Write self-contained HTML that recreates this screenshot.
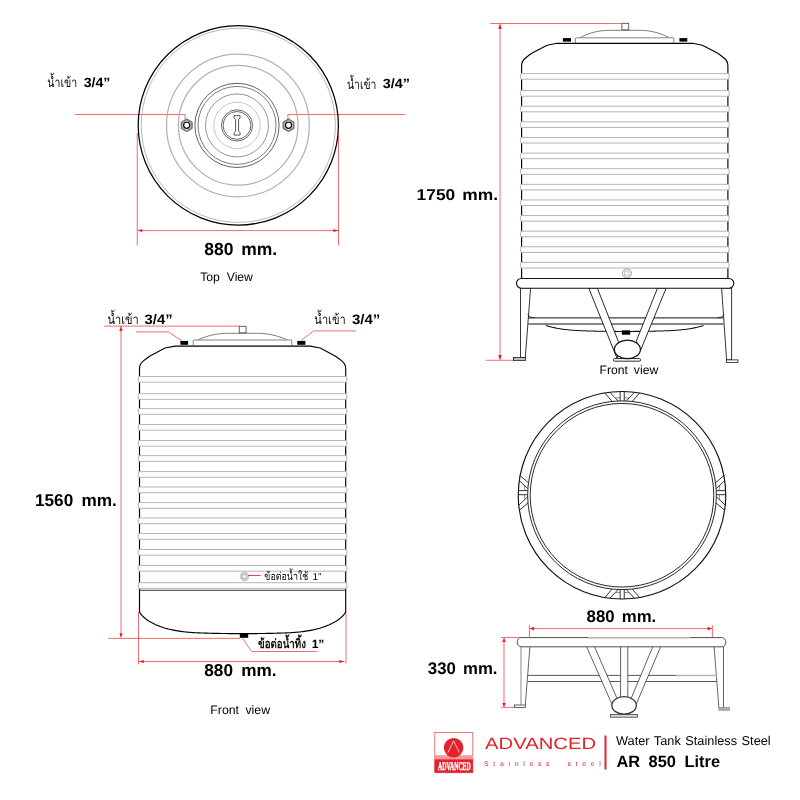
<!DOCTYPE html><html><head><meta charset="utf-8"><title>AR 850 Litre</title>
<style>html,body{margin:0;padding:0;background:#fff;}svg{display:block;will-change:transform;-webkit-font-smoothing:antialiased;text-rendering:geometricPrecision}</style></head><body>
<svg width="800" height="800" viewBox="0 0 800 800">
<rect width="800" height="800" fill="#fff"/>
<polyline points="75,114.5 185.1,114.5 185.1,119.4" stroke="#ed1c24" stroke-width="0.65" fill="none" />
<polyline points="404.8,114.5 287.9,114.5 287.9,119.4" stroke="#ed1c24" stroke-width="0.65" fill="none" />
<ellipse cx="238.3" cy="125.3" rx="100.1" ry="99.75" fill="none" stroke="#000" stroke-width="1.25"/>
<circle cx="238.3" cy="125.3" r="97.1" stroke="#a0a0a0" stroke-width="0.75" fill="none"/>
<circle cx="237.9" cy="125.4" r="71.4" stroke="#b2b2b2" stroke-width="1.25" fill="none"/>
<circle cx="238.2" cy="125.3" r="59.8" stroke="#b2b2b2" stroke-width="1.25" fill="none"/>
<circle cx="237.0" cy="125.4" r="42.1" stroke="#3a3a3a" stroke-width="0.8" fill="none"/>
<circle cx="237.0" cy="125.4" r="39.0" stroke="#444" stroke-width="0.7" fill="none"/>
<circle cx="237.0" cy="125.4" r="31.5" stroke="#666" stroke-width="0.7" fill="none"/>
<circle cx="237.0" cy="125.4" r="23.2" stroke="#a8a8a8" stroke-width="0.65" fill="none"/>
<circle cx="237.0" cy="125.4" r="15.6" stroke="#444" stroke-width="0.8" fill="none"/>
<circle cx="237.0" cy="125.4" r="13.9" stroke="#444" stroke-width="0.8" fill="none"/>
<path d="M234.1,115.7 h6 v2.2 l-1.5,1.8 v11.4 l1.5,1.8 v2.2 h-6 v-2.2 l1.5,-1.8 v-11.4 l-1.5,-1.8 z" fill="#fff" stroke="#3a3a3a" stroke-width="0.85" stroke-linejoin="round"/>
<polygon points="192.16,128.45 186.7,131.6 181.24,128.45 181.24,122.15 186.7,119.0 192.16,122.15" fill="#fff" stroke="#111" stroke-width="0.7"/>
<polygon points="191.29,127.95 186.7,130.6 182.11,127.95 182.11,122.65 186.7,120.0 191.29,122.65" fill="none" stroke="#222" stroke-width="0.55"/>
<circle cx="186.7" cy="125.3" r="3.1" stroke="#111" stroke-width="1.3" fill="none"/>
<polygon points="293.96,128.45 288.5,131.6 283.04,128.45 283.04,122.15 288.5,119.0 293.96,122.15" fill="#fff" stroke="#111" stroke-width="0.7"/>
<polygon points="293.09,127.95 288.5,130.6 283.91,127.95 283.91,122.65 288.5,120.0 293.09,122.65" fill="none" stroke="#222" stroke-width="0.55"/>
<circle cx="288.5" cy="125.3" r="3.1" stroke="#111" stroke-width="1.3" fill="none"/>
<line x1="137.25" y1="133" x2="137.25" y2="245.5" stroke="#ed1c24" stroke-width="0.65" />
<line x1="338.5" y1="133" x2="338.5" y2="245.5" stroke="#ed1c24" stroke-width="0.65" />
<line x1="138" y1="230.6" x2="339" y2="230.6" stroke="#ed1c24" stroke-width="0.65" />
<polygon points="137.5,230.6 142.3,229.1 142.3,232.1" fill="#ed1c24"/>
<polygon points="338.2,230.6 333.4,229.1 333.4,232.1" fill="#ed1c24"/>
<text x="204.2" y="255" font-family="Liberation Sans, sans-serif" font-size="17.5" font-weight="bold" fill="#000" text-anchor="start" word-spacing="3" letter-spacing="0" style="white-space:pre">880 mm.</text>
<text x="200.2" y="281" font-family="Liberation Sans, sans-serif" font-size="12.2" font-weight="normal" fill="#000" text-anchor="start" word-spacing="3.5" letter-spacing="0" style="white-space:pre">Top View</text>
<text x="47.3" y="87" font-family="sans-serif" font-size="13.5" font-weight="normal" fill="#0a0a0a" text-anchor="start" textLength="30" lengthAdjust="spacingAndGlyphs">น้ำเข้า</text>
<text transform="translate(83.7,86.8) scale(1.06,1)" font-family="Liberation Sans, sans-serif" font-size="13.3" font-weight="bold" fill="#000" text-anchor="start" word-spacing="0" letter-spacing="0" style="white-space:pre">3/4”</text>
<text x="347" y="88.5" font-family="sans-serif" font-size="13.5" font-weight="normal" fill="#0a0a0a" text-anchor="start" textLength="29.3" lengthAdjust="spacingAndGlyphs">น้ำเข้า</text>
<text transform="translate(382.7,88.4) scale(1.08,1)" font-family="Liberation Sans, sans-serif" font-size="13.3" font-weight="bold" fill="#000" text-anchor="start" word-spacing="0" letter-spacing="0" style="white-space:pre">3/4”</text>
<line x1="104" y1="326.1" x2="239.5" y2="326.1" stroke="#ed1c24" stroke-width="0.65" />
<line x1="121.0" y1="326" x2="121.0" y2="636.5" stroke="#ed1c24" stroke-width="0.65" />
<polygon points="121.0,326.1 119.4,330.90000000000003 122.6,330.90000000000003" fill="#ed1c24"/>
<polygon points="121.0,638.0 119.4,633.2 122.6,633.2" fill="#ed1c24"/>
<line x1="108.4" y1="638.4" x2="240" y2="638.4" stroke="#ed1c24" stroke-width="0.65" />
<polyline points="136,331.9 168.4,331.9 181.6,340.7" stroke="#ed1c24" stroke-width="0.65" fill="none" />
<polyline points="301.3,340.4 313.6,330.9 355.9,330.9" stroke="#ed1c24" stroke-width="0.65" fill="none" />
<polyline points="242.2,637.8 251.6,651.5 317.2,651.5" stroke="#ed1c24" stroke-width="0.65" fill="none" />
<line x1="138.5" y1="612" x2="138.5" y2="664.4" stroke="#ed1c24" stroke-width="0.65" />
<line x1="346.0" y1="612" x2="346.0" y2="663.5" stroke="#ed1c24" stroke-width="0.65" />
<line x1="139" y1="661.5" x2="344.5" y2="661.5" stroke="#ed1c24" stroke-width="0.65" />
<polygon points="138.8,661.5 143.8,659.9 143.8,663.1" fill="#ed1c24"/>
<polygon points="344.2,661.5 339.2,659.9 339.2,663.1" fill="#ed1c24"/>
<path d="M198.25,339.6 C209.25,334.90000000000003 218.525,333.3 228.525,333.3 L256.525,333.3 C266.525,333.3 275.8,334.90000000000003 286.8,339.6" fill="#fff" stroke="#666" stroke-width="0.85"/>
<path d="M193.25,345.7 L193.25,340.8 Q193.25,340 194.05,340 L291.0,340 Q291.8,340 291.8,340.8 L291.8,345.7" fill="#fff" stroke="#777" stroke-width="0.9"/>
<rect x="239.3" y="326.3" width="6.799999999999983" height="6.5" fill="#fff" stroke="#555" stroke-width="0.9"/>
<path d="M139.5,611.5 L139.5,368.6 C139.5,365.1 141.0,362.90000000000003 143.1,361.1 C145.5,359.1 147.5,357.40000000000003 150.1,355.90000000000003 L165.0,348.0 L175.0,346.1 L310.2,346.1 L320.2,348.0 L335.09999999999997,355.90000000000003 C337.7,357.40000000000003 339.7,359.1 342.09999999999997,361.1 C344.2,362.90000000000003 345.7,365.1 345.7,368.6 L345.7,611.5 L345.7,611.5 345.15,612.92 344.33,614.2 343.32,615.38 342.21,616.49 341.05,617.54 339.85,618.55 338.59,619.5 337.3,620.41 335.96,621.27 334.6,622.09 333.2,622.86 331.77,623.6 330.32,624.29 328.86,624.95 327.37,625.57 325.88,626.16 324.37,626.71 322.86,627.23 321.35,627.72 319.83,628.19 318.3,628.62 316.77,629.03 315.24,629.4 313.69,629.76 312.15,630.09 310.6,630.39 309.05,630.68 307.49,630.94 305.93,631.18 304.37,631.41 302.8,631.61 301.23,631.8 299.66,631.97 298.09,632.12 296.51,632.26 294.93,632.39 293.35,632.5 291.77,632.61 290.18,632.7 288.6,632.78 287.01,632.86 285.43,632.93 283.84,632.99 282.25,633.05 280.66,633.1 279.08,633.15 277.49,633.19 275.9,633.24 274.32,633.28 272.73,633.32 271.14,633.35 269.56,633.38 267.97,633.41 266.38,633.44 264.8,633.47 263.21,633.49 261.62,633.51 260.04,633.53 258.45,633.54 256.87,633.56 255.28,633.57 253.7,633.58 252.11,633.59 250.53,633.6 248.94,633.6 247.36,633.6 245.77,633.6 244.18,633.6 242.6,633.6 241.02,633.6 239.43,633.6 237.84,633.6 236.26,633.6 234.67,633.6 233.09,633.59 231.5,633.58 229.92,633.57 228.33,633.56 226.75,633.54 225.16,633.53 223.58,633.51 221.99,633.49 220.4,633.47 218.82,633.44 217.23,633.41 215.64,633.38 214.06,633.35 212.47,633.32 210.88,633.28 209.3,633.24 207.71,633.19 206.12,633.15 204.54,633.1 202.95,633.05 201.36,632.99 199.77,632.93 198.19,632.86 196.6,632.78 195.02,632.7 193.43,632.61 191.85,632.5 190.27,632.39 188.69,632.26 187.11,632.12 185.54,631.97 183.97,631.8 182.4,631.61 180.83,631.41 179.27,631.18 177.71,630.94 176.15,630.68 174.6,630.39 173.05,630.09 171.51,629.76 169.96,629.4 168.43,629.03 166.9,628.62 165.37,628.19 163.85,627.72 162.34,627.23 160.83,626.71 159.32,626.16 157.83,625.57 156.34,624.95 154.88,624.29 153.43,623.6 152.0,622.86 150.6,622.09 149.24,621.27 147.9,620.41 146.61,619.5 145.35,618.55 144.15,617.54 142.99,616.49 141.88,615.38 140.87,614.2 140.05,612.92 139.5,611.5" fill="none" stroke="#000" stroke-width="1.15" stroke-linejoin="round"/>
<line x1="139.5" y1="590.3" x2="345.7" y2="590.3" stroke="#3a3a3a" stroke-width="1.0" />
<rect x="138.3" y="376.5" width="208.6" height="5.7" rx="1.2" ry="1.4" fill="#fff" stroke="#b4b4b4" stroke-width="1"/>
<rect x="138.3" y="393.65" width="208.6" height="5.7" rx="1.2" ry="1.4" fill="#fff" stroke="#b4b4b4" stroke-width="1"/>
<rect x="138.3" y="408.6" width="208.6" height="5.7" rx="1.2" ry="1.4" fill="#fff" stroke="#b4b4b4" stroke-width="1"/>
<rect x="138.3" y="424.5" width="208.6" height="5.7" rx="1.2" ry="1.4" fill="#fff" stroke="#b4b4b4" stroke-width="1"/>
<rect x="138.3" y="440.5" width="208.6" height="5.7" rx="1.2" ry="1.4" fill="#fff" stroke="#b4b4b4" stroke-width="1"/>
<rect x="138.3" y="455.65" width="208.6" height="5.7" rx="1.2" ry="1.4" fill="#fff" stroke="#b4b4b4" stroke-width="1"/>
<rect x="138.3" y="471.6" width="208.6" height="5.7" rx="1.2" ry="1.4" fill="#fff" stroke="#b4b4b4" stroke-width="1"/>
<rect x="138.3" y="487.0" width="208.6" height="5.7" rx="1.2" ry="1.4" fill="#fff" stroke="#b4b4b4" stroke-width="1"/>
<rect x="138.3" y="502.6" width="208.6" height="5.7" rx="1.2" ry="1.4" fill="#fff" stroke="#b4b4b4" stroke-width="1"/>
<rect x="138.3" y="518.0" width="208.6" height="5.7" rx="1.2" ry="1.4" fill="#fff" stroke="#b4b4b4" stroke-width="1"/>
<rect x="138.3" y="533.55" width="208.6" height="5.7" rx="1.2" ry="1.4" fill="#fff" stroke="#b4b4b4" stroke-width="1"/>
<rect x="138.3" y="549.5" width="208.6" height="5.7" rx="1.2" ry="1.4" fill="#fff" stroke="#b4b4b4" stroke-width="1"/>
<rect x="138.3" y="565.45" width="208.6" height="5.7" rx="1.2" ry="1.4" fill="#fff" stroke="#b4b4b4" stroke-width="1"/>
<rect x="138.3" y="582.7" width="208.6" height="5.7" rx="1.2" ry="1.4" fill="#fff" stroke="#b4b4b4" stroke-width="1"/>
<rect x="180.4" y="340.9" width="7.7" height="3.9" fill="#000"/>
<rect x="297.3" y="340.9" width="8.1" height="3.9" fill="#000"/>
<rect x="239.8" y="633.6" width="8.4" height="4.2" fill="#000"/>
<circle cx="244.5" cy="576.5" r="2.95" stroke="#cacaca" stroke-width="3.0" fill="#fff"/>
<circle cx="244.5" cy="576.5" r="4.4" stroke="#b0b0b0" stroke-width="0.5" fill="none"/>
<circle cx="244.5" cy="576.5" r="1.5" stroke="#bbb" stroke-width="0.4" fill="none"/>
<line x1="248.2" y1="575.5" x2="260.7" y2="575.5" stroke="#ed1c24" stroke-width="0.85" />
<text x="264.3" y="580.3" font-family="sans-serif" font-size="11" font-weight="normal" fill="#0a0a0a" text-anchor="start" textLength="44" lengthAdjust="spacingAndGlyphs">ข้อต่อน้ำใช้</text>
<text x="312.5" y="580.3" font-family="Liberation Sans, sans-serif" font-size="10" font-weight="normal" fill="#000" text-anchor="start" word-spacing="0" letter-spacing="0" style="white-space:pre">1”</text>
<text x="258.1" y="648.2" font-family="sans-serif" font-size="12.5" font-weight="bold" fill="#0a0a0a" text-anchor="start" textLength="47.8" lengthAdjust="spacingAndGlyphs">ข้อต่อน้ำทิ้ง</text>
<text x="311.7" y="648.1" font-family="Liberation Sans, sans-serif" font-size="12" font-weight="bold" fill="#000" text-anchor="start" word-spacing="0" letter-spacing="0" style="white-space:pre">1”</text>
<text x="107.5" y="324" font-family="sans-serif" font-size="13.5" font-weight="normal" fill="#0a0a0a" text-anchor="start" textLength="31.3" lengthAdjust="spacingAndGlyphs">น้ำเข้า</text>
<text transform="translate(144.6,324) scale(1.08,1)" font-family="Liberation Sans, sans-serif" font-size="13.7" font-weight="bold" fill="#000" text-anchor="start" word-spacing="0" letter-spacing="0" style="white-space:pre">3/4”</text>
<text x="314.3" y="323.8" font-family="sans-serif" font-size="13.5" font-weight="normal" fill="#0a0a0a" text-anchor="start" textLength="31.4" lengthAdjust="spacingAndGlyphs">น้ำเข้า</text>
<text transform="translate(351.9,323.8) scale(1.1,1)" font-family="Liberation Sans, sans-serif" font-size="13.7" font-weight="bold" fill="#000" text-anchor="start" word-spacing="0" letter-spacing="0" style="white-space:pre">3/4”</text>
<text x="35.0" y="505.6" font-family="Liberation Sans, sans-serif" font-size="17.2" font-weight="bold" fill="#000" text-anchor="start" word-spacing="3.5" letter-spacing="0" style="white-space:pre">1560 mm.</text>
<text x="204.3" y="676" font-family="Liberation Sans, sans-serif" font-size="17.2" font-weight="bold" fill="#000" text-anchor="start" word-spacing="3.5" letter-spacing="0" style="white-space:pre">880 mm.</text>
<text x="210.3" y="713.5" font-family="Liberation Sans, sans-serif" font-size="12.3" font-weight="normal" fill="#000" text-anchor="start" word-spacing="3" letter-spacing="0" style="white-space:pre">Front view</text>
<line x1="490.3" y1="23.5" x2="622" y2="23.5" stroke="#ed1c24" stroke-width="0.65" />
<line x1="500" y1="24" x2="500" y2="359.5" stroke="#ed1c24" stroke-width="0.65" />
<polygon points="500,23.7 498.3,28.9 501.7,28.9" fill="#ed1c24"/>
<polygon points="500,360.2 498.3,355.0 501.7,355.0" fill="#ed1c24"/>
<line x1="486.2" y1="360.3" x2="514" y2="360.3" stroke="#ed1c24" stroke-width="0.65" />
<path d="M703.54,325.5 L702.01,325.97 L700.49,326.4 L698.96,326.81 L697.42,327.19 L695.88,327.55 L694.33,327.88 L692.78,328.18 L691.23,328.47 L689.67,328.73 L688.11,328.97 L686.55,329.2 L684.98,329.4 L683.41,329.59 L681.84,329.76 L680.26,329.92 L678.68,330.06 L677.1,330.19 L675.52,330.3 L673.94,330.4 L672.36,330.5 L670.77,330.58 L669.18,330.66 L667.6,330.73 L666.01,330.79 L664.42,330.85 L662.83,330.9 L661.24,330.95 L659.66,330.99 L658.07,331.04 L656.48,331.08 L654.89,331.12 L653.3,331.15 L651.72,331.18 L650.13,331.21 L648.54,331.24 L646.96,331.27 L645.37,331.29 L643.78,331.31 L642.2,331.33 L640.61,331.35 L639.02,331.36 L637.44,331.37 L635.85,331.38 L634.27,331.39 L632.68,331.4 L631.09,331.4 L629.51,331.4 L627.92,331.4 L626.34,331.4 L624.75,331.4 L623.16,331.4 L621.58,331.4 L619.99,331.4 L618.41,331.4 L616.82,331.4 L615.23,331.39 L613.65,331.38 L612.06,331.37 L610.48,331.36 L608.89,331.35 L607.3,331.33 L605.72,331.31 L604.13,331.29 L602.54,331.27 L600.96,331.24 L599.37,331.21 L597.78,331.18 L596.2,331.15 L594.61,331.12 L593.02,331.08 L591.43,331.04 L589.84,330.99 L588.26,330.95 L586.67,330.9 L585.08,330.85 L583.49,330.79 L581.9,330.73 L580.32,330.66 L578.73,330.58 L577.14,330.5 L575.56,330.4 L573.98,330.3 L572.4,330.19 L570.82,330.06 L569.24,329.92 L567.66,329.76 L566.09,329.59 L564.52,329.4 L562.95,329.2 L561.39,328.97 L559.83,328.73 L558.27,328.47 L556.72,328.18 L555.17,327.88 L553.62,327.55 L552.08,327.19 L550.54,326.81 L549.01,326.4 L547.49,325.97 L545.96,325.5" fill="none" stroke="#111" stroke-width="1.05"/>
<path d="M580.3,37.4 C591.3,31.900000000000002 600.55,30.3 610.55,30.3 L638.55,30.3 C648.55,30.3 657.8,31.900000000000002 668.8,37.4" fill="#fff" stroke="#666" stroke-width="0.85"/>
<path d="M575.3,43.0 L575.3,38.599999999999994 Q575.3,37.8 576.0999999999999,37.8 L673.0,37.8 Q673.8,37.8 673.8,38.599999999999994 L673.8,43.0" fill="#fff" stroke="#777" stroke-width="0.9"/>
<rect x="621.9" y="23.3" width="6.800000000000068" height="6.5" fill="#fff" stroke="#555" stroke-width="0.9"/>
<path d="M521.6,279 L521.6,65.8 C521.6,62.3 523.1,60.099999999999994 525.2,58.3 C527.6,56.3 529.6,54.599999999999994 532.2,53.099999999999994 L547.1,45.199999999999996 L557.1,43.3 L692.4,43.3 L702.4,45.199999999999996 L717.3,53.099999999999994 C719.9,54.599999999999994 721.9,56.3 724.3,58.3 C726.4,60.099999999999994 727.9,62.3 727.9,65.8 L727.9,279" fill="none" stroke="#000" stroke-width="1.15" stroke-linejoin="round"/>
<rect x="520.4" y="73.6" width="208.7" height="5.6" rx="1.2" ry="1.4" fill="#fff" stroke="#b4b4b4" stroke-width="1"/>
<rect x="520.4" y="90.6" width="208.7" height="5.6" rx="1.2" ry="1.4" fill="#fff" stroke="#b4b4b4" stroke-width="1"/>
<rect x="520.4" y="106.22" width="208.7" height="5.6" rx="1.2" ry="1.4" fill="#fff" stroke="#b4b4b4" stroke-width="1"/>
<rect x="520.4" y="121.84" width="208.7" height="5.6" rx="1.2" ry="1.4" fill="#fff" stroke="#b4b4b4" stroke-width="1"/>
<rect x="520.4" y="137.46" width="208.7" height="5.6" rx="1.2" ry="1.4" fill="#fff" stroke="#b4b4b4" stroke-width="1"/>
<rect x="520.4" y="153.08" width="208.7" height="5.6" rx="1.2" ry="1.4" fill="#fff" stroke="#b4b4b4" stroke-width="1"/>
<rect x="520.4" y="168.7" width="208.7" height="5.6" rx="1.2" ry="1.4" fill="#fff" stroke="#b4b4b4" stroke-width="1"/>
<rect x="520.4" y="184.32" width="208.7" height="5.6" rx="1.2" ry="1.4" fill="#fff" stroke="#b4b4b4" stroke-width="1"/>
<rect x="520.4" y="199.94" width="208.7" height="5.6" rx="1.2" ry="1.4" fill="#fff" stroke="#b4b4b4" stroke-width="1"/>
<rect x="520.4" y="215.56" width="208.7" height="5.6" rx="1.2" ry="1.4" fill="#fff" stroke="#b4b4b4" stroke-width="1"/>
<rect x="520.4" y="231.18" width="208.7" height="5.6" rx="1.2" ry="1.4" fill="#fff" stroke="#b4b4b4" stroke-width="1"/>
<rect x="520.4" y="246.8" width="208.7" height="5.6" rx="1.2" ry="1.4" fill="#fff" stroke="#b4b4b4" stroke-width="1"/>
<rect x="520.4" y="262.42" width="208.7" height="5.6" rx="1.2" ry="1.4" fill="#fff" stroke="#b4b4b4" stroke-width="1"/>
<rect x="562.9" y="38.1" width="8.1" height="3.5" fill="#000"/>
<rect x="679.4" y="38.1" width="7.9" height="3.5" fill="#000"/>
<circle cx="627.0" cy="273.3" r="4.5" stroke="#999" stroke-width="0.9" fill="#fff"/>
<circle cx="627.0" cy="273.3" r="2.6" stroke="#aaa" stroke-width="0.7" fill="none"/>
<line x1="623.9" y1="270.2" x2="630.1" y2="276.4" stroke="#aaa" stroke-width="0.7" />
<line x1="630.1" y1="270.2" x2="623.9" y2="276.4" stroke="#aaa" stroke-width="0.7" />
<circle cx="627.0" cy="273.3" r="1.1" stroke="#fff" stroke-width="0.1" fill="#fff"/>
<polygon points="520.5,288 530.6,288 525.3,357.6 520.5,357.6" fill="#fff" stroke="#111" stroke-width="0.85" stroke-linejoin="round"/>
<polygon points="731.6,288 721.6,288 726.6,360 731.6,360" fill="#fff" stroke="#111" stroke-width="0.85" stroke-linejoin="round"/>
<line x1="528.2" y1="317.9" x2="723.6" y2="317.9" stroke="#111" stroke-width="1.0" />
<line x1="528.2" y1="324" x2="723.6" y2="324" stroke="#111" stroke-width="1.0" />
<path d="M527.7,314.4 Q529.2,317.9 534.2,317.9" fill="none" stroke="#111" stroke-width="0.8"/>
<path d="M724.1,314.4 Q722.6,317.9 717.6,317.9" fill="none" stroke="#111" stroke-width="0.8"/>
<polygon points="588.7,288 597.3,288 618.5,342 617.3,359" fill="#fff" stroke="#111" stroke-width="0.9" stroke-linejoin="round"/>
<polygon points="666.2,288 657.6,288 636.3,341 640.3,351" fill="#fff" stroke="#111" stroke-width="0.9" stroke-linejoin="round"/>
<rect x="613.4" y="358.5" width="27.2" height="2.7" rx="1.2" fill="#f4f4f4" stroke="#111" stroke-width="0.85"/>
<ellipse cx="627.4" cy="349.4" rx="13" ry="9.2" fill="#fff" stroke="#111" stroke-width="1.25"/>
<rect x="513.4" y="357.5" width="12.2" height="2.9" fill="#bdbdbd" stroke="#111" stroke-width="0.75"/>
<rect x="726.3" y="359.9" width="11.7" height="2.6" fill="#fff" stroke="#111" stroke-width="0.75"/>
<rect x="516.5" y="278.5" width="217.29999999999995" height="9.699999999999989" rx="4.849999999999994" ry="4.849999999999994" fill="#fff" stroke="#111" stroke-width="1.15"/>
<rect x="621.9" y="330.3" width="8.3" height="4.4" fill="#000"/>
<text transform="translate(416.6,199.7) scale(1.1,1)" font-family="Liberation Sans, sans-serif" font-size="15.8" font-weight="bold" fill="#000" text-anchor="start" word-spacing="2" letter-spacing="0" style="white-space:pre">1750 mm.</text>
<text x="599.5" y="373.8" font-family="Liberation Sans, sans-serif" font-size="12.2" font-weight="normal" fill="#000" text-anchor="start" word-spacing="2.5" letter-spacing="0" style="white-space:pre">Front view</text>
<circle cx="622.0" cy="495.25" r="103.75" stroke="#111" stroke-width="1.15" fill="none"/>
<circle cx="622.0" cy="495.25" r="94.35" stroke="#111" stroke-width="0.9" fill="none"/>
<circle cx="622.0" cy="495.25" r="91.8" stroke="#111" stroke-width="0.9" fill="none"/>
<g transform="rotate(0 622.0 495.25) translate(0.2,0)" stroke="#111" stroke-width="0.85" fill="none">
<line x1="619.95" y1="391.5" x2="619.95" y2="400.9"/><line x1="624.05" y1="391.5" x2="624.05" y2="400.9"/>
<line x1="604.7" y1="393.0" x2="611.8" y2="401.35"/><line x1="609.7" y1="392.25" x2="617.9" y2="401.0"/>
<line x1="619.95" y1="397.9" x2="615.1" y2="397.9" stroke="#555" stroke-width="0.7"/>
<line x1="639.3" y1="393.0" x2="632.2" y2="401.35"/><line x1="634.3" y1="392.25" x2="626.1" y2="401.0"/>
<line x1="624.05" y1="397.9" x2="628.9" y2="397.9" stroke="#555" stroke-width="0.7"/>
</g>
<g transform="rotate(180 622.0 495.25) translate(-0.2,0)" stroke="#111" stroke-width="0.85" fill="none">
<line x1="619.95" y1="391.5" x2="619.95" y2="400.9"/><line x1="624.05" y1="391.5" x2="624.05" y2="400.9"/>
<line x1="604.7" y1="393.0" x2="611.8" y2="401.35"/><line x1="609.7" y1="392.25" x2="617.9" y2="401.0"/>
<line x1="619.95" y1="397.9" x2="615.1" y2="397.9" stroke="#555" stroke-width="0.7"/>
<line x1="639.3" y1="393.0" x2="632.2" y2="401.35"/><line x1="634.3" y1="392.25" x2="626.1" y2="401.0"/>
<line x1="624.05" y1="397.9" x2="628.9" y2="397.9" stroke="#555" stroke-width="0.7"/>
</g>
<g transform="rotate(90 622.0 495.25) translate(-2.6,0)" stroke="#111" stroke-width="0.85" fill="none">
<line x1="619.95" y1="391.5" x2="619.95" y2="400.9"/><line x1="624.05" y1="391.5" x2="624.05" y2="400.9"/>
<line x1="604.7" y1="393.0" x2="611.8" y2="401.35"/><line x1="609.7" y1="392.25" x2="617.9" y2="401.0"/>
<line x1="619.95" y1="397.9" x2="615.1" y2="397.9" stroke="#555" stroke-width="0.7"/>
<line x1="639.3" y1="393.0" x2="632.2" y2="401.35"/><line x1="634.3" y1="392.25" x2="626.1" y2="401.0"/>
<line x1="624.05" y1="397.9" x2="628.9" y2="397.9" stroke="#555" stroke-width="0.7"/>
</g>
<g transform="rotate(270 622.0 495.25) translate(2.6,0)" stroke="#111" stroke-width="0.85" fill="none">
<line x1="619.95" y1="391.5" x2="619.95" y2="400.9"/><line x1="624.05" y1="391.5" x2="624.05" y2="400.9"/>
<line x1="604.7" y1="393.0" x2="611.8" y2="401.35"/><line x1="609.7" y1="392.25" x2="617.9" y2="401.0"/>
<line x1="619.95" y1="397.9" x2="615.1" y2="397.9" stroke="#555" stroke-width="0.7"/>
<line x1="639.3" y1="393.0" x2="632.2" y2="401.35"/><line x1="634.3" y1="392.25" x2="626.1" y2="401.0"/>
<line x1="624.05" y1="397.9" x2="628.9" y2="397.9" stroke="#555" stroke-width="0.7"/>
</g>
<line x1="529.4" y1="625.2" x2="529.4" y2="637.2" stroke="#ed1c24" stroke-width="0.65" />
<line x1="712.4" y1="625.2" x2="712.4" y2="637.6" stroke="#ed1c24" stroke-width="0.65" />
<line x1="530" y1="628.6" x2="712" y2="628.6" stroke="#ed1c24" stroke-width="0.65" />
<polygon points="529.7,628.6 534.1,626.7 534.1,630.5" fill="#ed1c24"/>
<polygon points="712,628.6 707.6,626.7 707.6,630.5" fill="#ed1c24"/>
<line x1="500.9" y1="637.5" x2="519.5" y2="637.5" stroke="#ed1c24" stroke-width="0.65" />
<line x1="500.9" y1="707.4" x2="514.6" y2="707.4" stroke="#ed1c24" stroke-width="0.65" />
<line x1="504.0" y1="638" x2="504.0" y2="707" stroke="#ed1c24" stroke-width="0.65" />
<polygon points="504.0,637.9 502.2,641.9 505.8,641.9" fill="#ed1c24"/>
<polygon points="504.0,707.0 502.2,703.0 505.8,703.0" fill="#ed1c24"/>
<polygon points="521,646.8 529.9,646.8 525.3,705 521,705" fill="#fff"/>
<line x1="521" y1="646.8" x2="521" y2="705" stroke="#b6b6b6" stroke-width="1.6" />
<line x1="529.9" y1="646.8" x2="525.3" y2="705" stroke="#333" stroke-width="0.75" />
<polygon points="723.5,646.8 714.1,646.8 718.9,707.8 723.5,707.8" fill="#fff"/>
<line x1="723.5" y1="646.8" x2="723.5" y2="707.8" stroke="#444" stroke-width="0.85" />
<line x1="714.1" y1="646.8" x2="718.9" y2="707.8" stroke="#444" stroke-width="0.8" />
<line x1="528" y1="675.4" x2="676" y2="675.4" stroke="#444" stroke-width="0.9" />
<line x1="676" y1="675.6" x2="716.6" y2="675.6" stroke="#b6b6b6" stroke-width="1.5" />
<line x1="527.6" y1="681.5" x2="717" y2="681.5" stroke="#444" stroke-width="0.9" />
<rect x="620.6" y="646.8" width="7.2" height="52" fill="#fff" stroke="none"/>
<line x1="620.6" y1="646.8" x2="620.6" y2="698" stroke="#444" stroke-width="0.85" />
<line x1="627.8" y1="646.8" x2="627.8" y2="698" stroke="#444" stroke-width="0.85" />
<polygon points="586.6,646.8 594.6,646.8 617.5,699.5 612.5,705.5" fill="#fff"/>
<line x1="586.6" y1="646.8" x2="612.5" y2="705.5" stroke="#444" stroke-width="0.85" />
<line x1="594.6" y1="646.8" x2="617.5" y2="699.5" stroke="#444" stroke-width="0.85" />
<polygon points="660.6,646.8 652.75,646.8 630.7,699.5 635.7,705.5" fill="#fff"/>
<line x1="660.6" y1="646.8" x2="635.7" y2="705.5" stroke="#444" stroke-width="0.85" />
<line x1="652.75" y1="646.8" x2="630.7" y2="699.5" stroke="#444" stroke-width="0.85" />
<rect x="610.6" y="714.4" width="27" height="2.8" fill="#d8d8d8" stroke="#444" stroke-width="0.8"/>
<ellipse cx="624.1" cy="705.4" rx="12.2" ry="8.8" fill="#fff" stroke="#333" stroke-width="1.25"/>
<rect x="514.6" y="705" width="11" height="2.4" fill="#fff" stroke="#333" stroke-width="0.75"/>
<rect x="718.9" y="707.6" width="10.6" height="2.6" fill="#b0b0b0" stroke="#777" stroke-width="0.6"/>
<rect x="517.2" y="637.6" width="208.6" height="9.2" rx="3.9" ry="4.6" fill="#fff" stroke="#444" stroke-width="0.95"/>
<line x1="588" y1="637.6" x2="690" y2="637.6" stroke="#fff" stroke-width="1.2" />
<line x1="588" y1="637.7" x2="690" y2="637.7" stroke="#b6b6b6" stroke-width="1.5" />
<text x="586.6" y="622.1" font-family="Liberation Sans, sans-serif" font-size="16.8" font-weight="bold" fill="#000" text-anchor="start" word-spacing="2.5" letter-spacing="0" style="white-space:pre">880 mm.</text>
<text x="427.8" y="674.3" font-family="Liberation Sans, sans-serif" font-size="16.8" font-weight="bold" fill="#000" text-anchor="start" word-spacing="2.5" letter-spacing="0" style="white-space:pre">330 mm.</text>
<rect x="434.75" y="732.45" width="38" height="40.2" fill="#fff" stroke="#ee7478" stroke-width="1"/>
<rect x="434.6" y="755.2" width="38.3" height="4.2" fill="#f29a9d"/>
<rect x="434.6" y="759.25" width="38.3" height="13.5" fill="#e5212a"/>
<circle cx="453.6" cy="747.75" r="9.75" fill="#e5212a"/>
<path d="M447.9,752.6 L453.6,740.9 L459.3,752.6" fill="none" stroke="#fff" stroke-width="0.75" stroke-linejoin="miter"/>
<text transform="translate(438.0,769.9) scale(0.505,1)" font-family="Liberation Serif, serif" font-weight="bold" font-size="11.6" fill="#fff" stroke="#fff" stroke-width="0.5">ADVANCED</text>
<text transform="translate(485,749.3) scale(1.237,1)" font-family="Liberation Sans, sans-serif" font-size="16.4" font-weight="normal" fill="#e5212a" text-anchor="start" word-spacing="0" letter-spacing="0" style="white-space:pre">ADVANCED</text>
<text x="484.0" y="765.5" font-family="Liberation Sans, sans-serif" font-size="6.8" font-weight="normal" fill="#e5212a" text-anchor="start" word-spacing="0" letter-spacing="4.73" style="white-space:pre">Stainless  steel</text>
<rect x="604.5" y="735.5" width="2" height="34" fill="#e5212a"/>
<text x="616.0" y="744.5" font-family="Liberation Sans, sans-serif" font-size="12.75" font-weight="normal" fill="#000" text-anchor="start" word-spacing="1" letter-spacing="0" style="white-space:pre">Water Tank Stainless Steel</text>
<text x="616.4" y="767" font-family="Liberation Sans, sans-serif" font-size="16.4" font-weight="bold" fill="#000" text-anchor="start" word-spacing="4" letter-spacing="0" style="white-space:pre">AR 850 Litre</text>
</svg></body></html>
